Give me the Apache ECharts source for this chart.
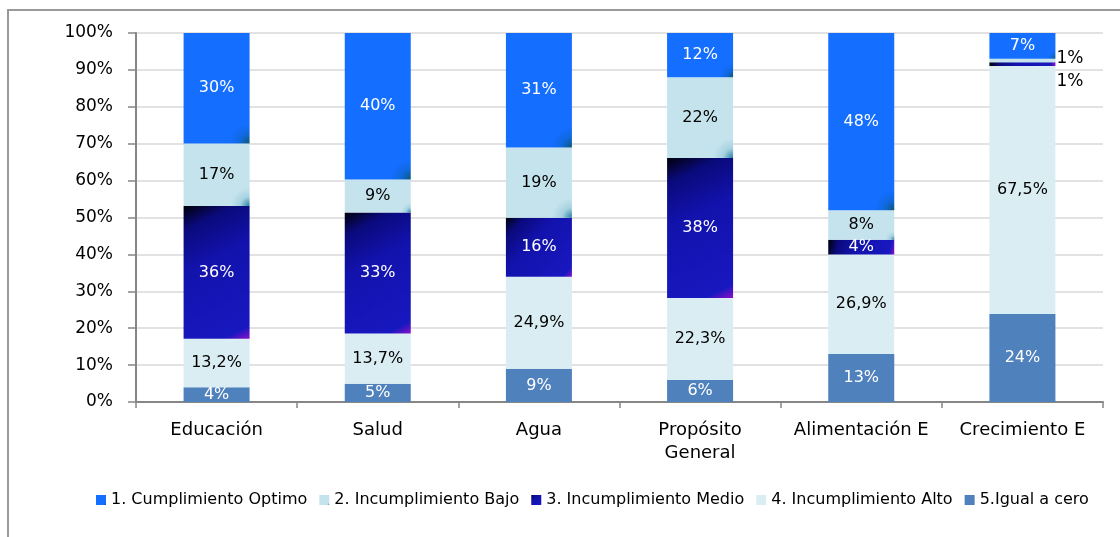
<!DOCTYPE html>
<html>
<head>
<meta charset="utf-8">
<script src="https://cdn.jsdelivr.net/npm/echarts@6/dist/echarts.min.js"></script>
<style>
  html, body { margin: 0; padding: 0; background: #fff; }
  #chart { width: 1120px; height: 537px; }
</style>
</head>
<body>
<div id="chart"></div>
<script>
// Categories and the share (%) of each compliance level per category
const categories = ['Educación', 'Salud', 'Agua', 'Propósito\nGeneral', 'Alimentación E', 'Crecimiento E'];
const igualCero = [4, 5, 9, 6, 13, 24];
const incAlto   = [13.2, 13.7, 24.9, 22.3, 26.9, 67.5];
const incMedio  = [36, 33, 16, 38, 4, 1];
const incBajo   = [17, 9, 19, 22, 8, 1];
const optimo    = [30, 40, 31, 12, 48, 7];

const seriesNames = ['1. Cumplimiento Optimo', '2. Incumplimiento Bajo', '3. Incumplimiento Medio', '4. Incumplimiento Alto', '5.Igual a cero'];

const FONT = 'DejaVu Sans';

// Column totals, used to draw each column as a 100% stack
const totals = categories.map((_, i) =>
  igualCero[i] + incAlto[i] + incMedio[i] + incBajo[i] + optimo[i]);

const fmt = v => String(v).replace('.', ',') + '%';

// corner shading: dark at the bottom-right corner, fading into the base colour
const cornerFill = (dark, mid, base) => ({
  type: 'radial', x: 1, y: 1, r: 0.3, colorStops: [
    { offset: 0, color: dark }, { offset: 0.5, color: mid }, { offset: 1, color: base }]
});

const fills = {
  optimo: cornerFill('#0a5878', '#1068dc', '#146eff'),
  bajo: cornerFill('#2a7ea6', '#a6d2e1', '#c5e3ec'),
  medio: { type: 'linear', x: 0, y: 0, x2: 1, y2: 1, colorStops: [
    { offset: 0, color: '#00000a' }, { offset: 0.15, color: '#0a0a7c' }, { offset: 0.4, color: '#1212ac' },
    { offset: 0.92, color: '#1818c0' }, { offset: 1, color: '#8a10c8' }] },
  alto: '#daedf3',
  igual: '#4f81bd'
};

function makeSeries(name, values, color, labelColor, key) {
  return {
    name: name,
    type: 'bar',
    stack: 'total',
    barWidth: 66,
    itemStyle: { color: color },
    label: {
      show: true,
      position: 'inside',
      color: labelColor,
      fontFamily: FONT,
      fontSize: 16,
      formatter: p => fmt(p.data.raw)
    },
    data: values.map((v, i) => {
      const item = { value: v / totals[i] * 100, raw: v };
      // very thin segments get their label beside the column
      if (v / totals[i] < 0.02) {
        item.label = {
          position: 'right',
          distance: 1,
          color: '#000',
          fontSize: 17,
          offset: key === 'medio' ? [0, 17] : [0, -2]
        };
      }
      return item;
    })
  };
}

const chart = echarts.init(document.getElementById('chart'), null, { renderer: 'canvas' });

chart.setOption({
  animation: false,
  backgroundColor: '#ffffff',
  graphic: [{
    type: 'rect',
    shape: { x: 8, y: 10, width: 1200, height: 600 },
    style: { fill: 'none', stroke: '#9a9a9a', lineWidth: 2 },
    silent: true
  }],
  grid: { left: 136, right: 17, top: 33, bottom: 135 },
  legend: {
    data: seriesNames,
    left: 91,
    top: 487,
    icon: 'rect',
    itemWidth: 10,
    itemHeight: 10,
    itemGap: 12,
    textStyle: { fontFamily: FONT, fontSize: 16, color: '#000' }
  },
  xAxis: {
    type: 'category',
    data: categories,
    axisLine: { lineStyle: { color: '#868686', width: 2 } },
    axisTick: { show: true, interval: 0, length: 6, lineStyle: { color: '#868686', width: 1.5 } },
    axisLabel: { interval: 0, fontFamily: FONT, fontSize: 18, color: '#000', margin: 17, lineHeight: 23 }
  },
  yAxis: {
    type: 'value',
    min: 0,
    max: 100,
    interval: 10,
    axisLine: { show: true, lineStyle: { color: '#868686', width: 2 } },
    axisTick: { show: true, length: 8, lineStyle: { color: '#868686', width: 1.5 } },
    axisLabel: { fontFamily: FONT, fontSize: 17, color: '#000', margin: 23, formatter: '{value}%' },
    splitLine: { lineStyle: { color: '#d9d9d9', width: 1.5 } }
  },
  series: [
    makeSeries(seriesNames[4], igualCero, fills.igual, '#fff', 'igual'),
    makeSeries(seriesNames[3], incAlto, fills.alto, '#000', 'alto'),
    makeSeries(seriesNames[2], incMedio, fills.medio, '#fff', 'medio'),
    makeSeries(seriesNames[1], incBajo, fills.bajo, '#000', 'bajo'),
    makeSeries(seriesNames[0], optimo, fills.optimo, '#fff', 'optimo')
  ]
});
</script>
</body>
</html>
